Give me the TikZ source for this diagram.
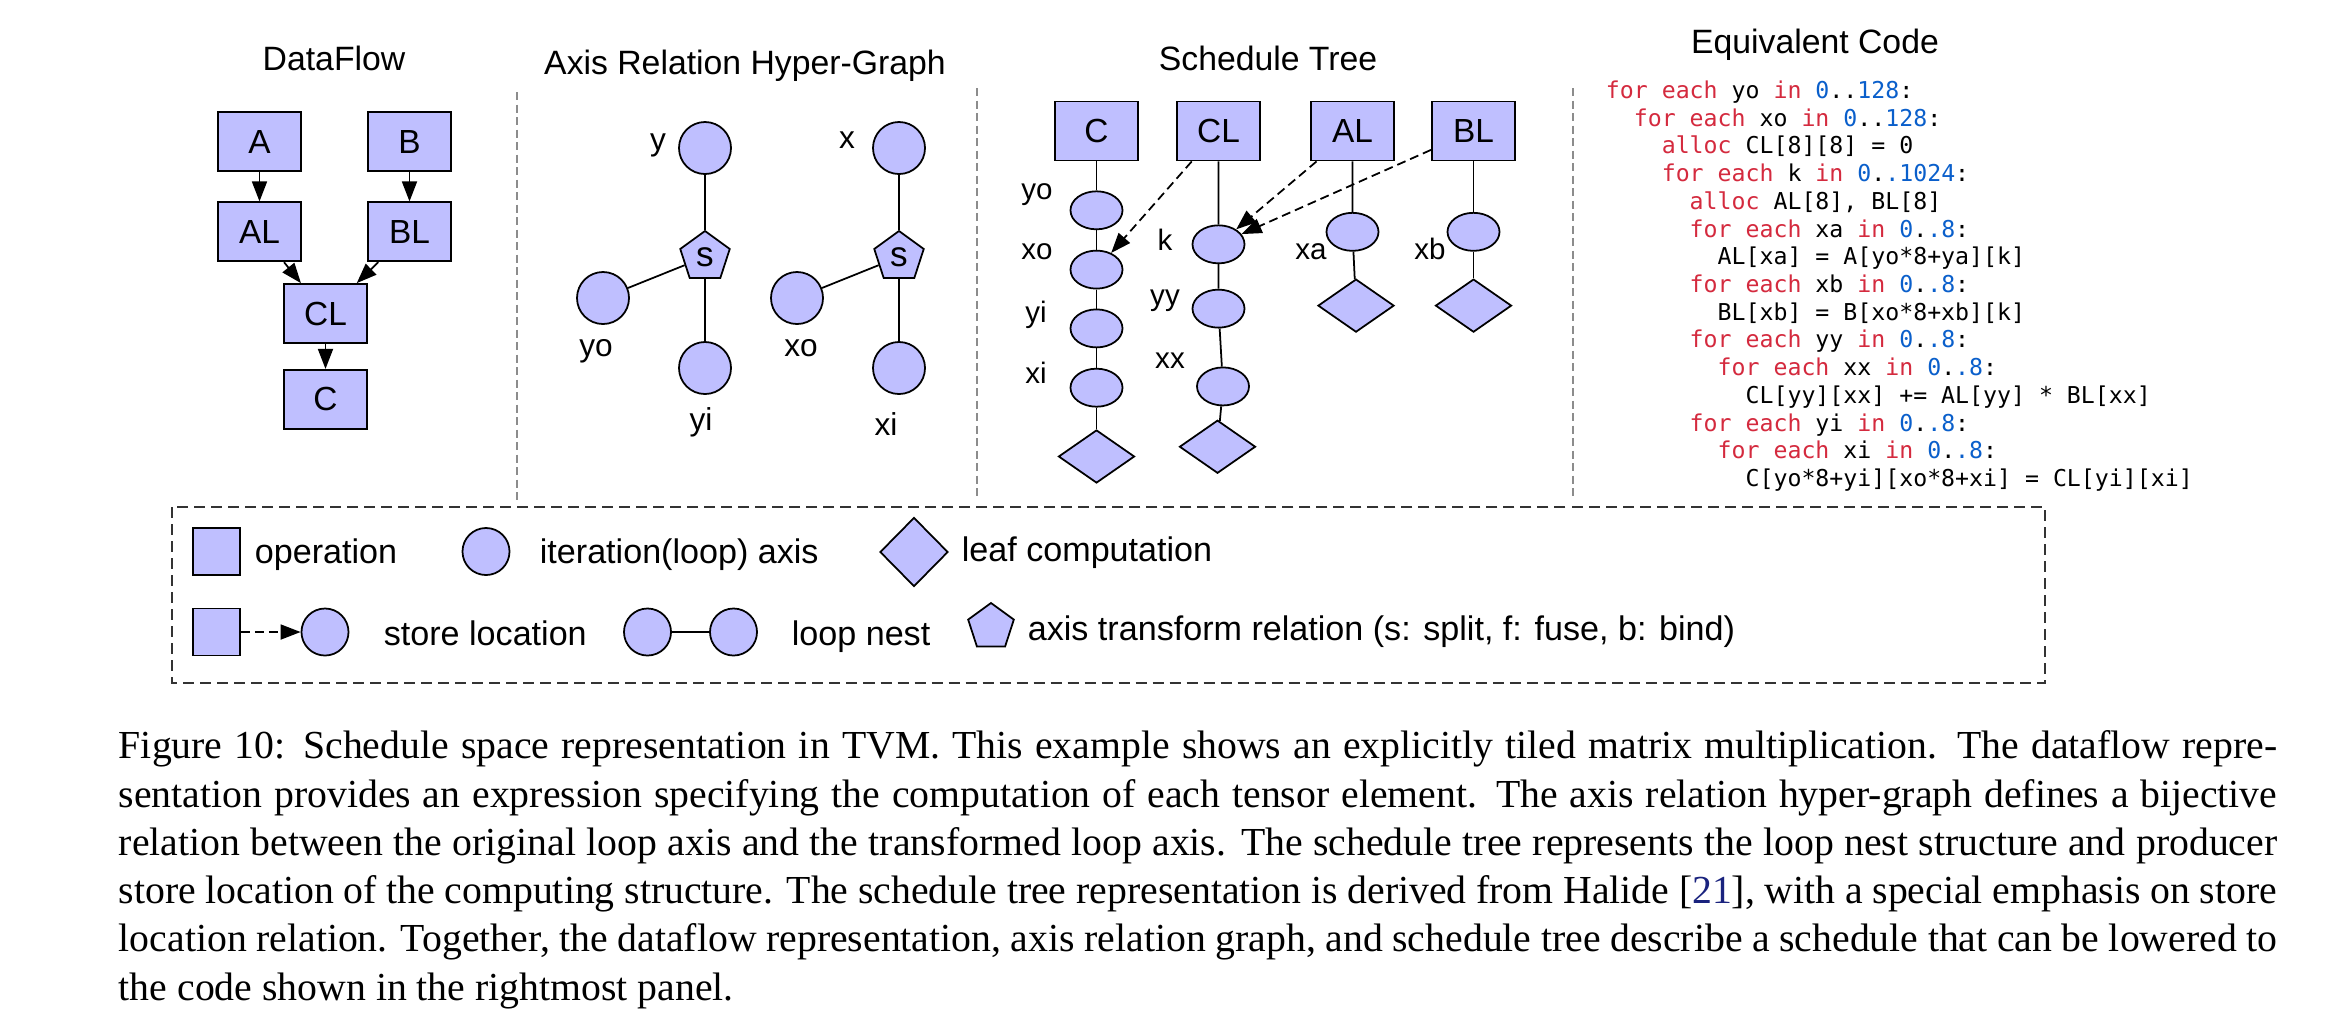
\documentclass[tikz,border=0pt]{standalone}
\usepackage{fontspec}
\setmainfont{Liberation Serif}
\setsansfont{Liberation Sans}
\newfontfamily\codefont{DejaVu Sans Mono}
\usepackage{tikz}
\usetikzlibrary{arrows.meta,positioning,shapes.geometric}
\definecolor{lav}{HTML}{BFBFFF}
\definecolor{kred}{HTML}{D42A3E}
\definecolor{nblue}{HTML}{0A5FCB}
\definecolor{cite}{HTML}{1A237E}
\def\kw#1{\textcolor{kred}{#1}}
\def\nm#1{\textcolor{nblue}{#1}}
\def\ind#1{\hspace*{\dimexpr #1em*602/1000\relax}}
\def\capline#1{\makebox[21.57cm][s]{#1}}

\begin{document}
\begin{tikzpicture}[x=0.01cm,y=-0.01cm,line width=0.5pt,
  title/.style={font=\sffamily\fontsize{9.6}{11}\selectfont,anchor=base,inner sep=0},
  opbox/.style={draw,fill=lav,minimum width=0.83cm,minimum height=0.59cm,inner sep=0,
    font=\sffamily\fontsize{9.5}{11}\selectfont},
  axisnode/.style={circle,draw,fill=lav,minimum size=0.52cm,inner sep=0},
  loopnode/.style={ellipse,draw,fill=lav,minimum width=0.52cm,minimum height=0.38cm,inner sep=0},
  leafnode/.style={diamond,draw,fill=lav,minimum width=0.76cm,minimum height=0.53cm,inner sep=0},
  relnode/.style={regular polygon,regular polygon sides=5,draw,fill=lav,minimum size=0.52cm,
    inner sep=0,font=\sffamily\fontsize{10}{11}\selectfont},
  albl/.style={font=\sffamily\fontsize{9}{11}\selectfont,anchor=base,inner sep=0},
  slbl/.style={font=\sffamily\fontsize{8.4}{10}\selectfont,anchor=base,inner sep=0},
  legtext/.style={font=\sffamily\fontsize{9.7}{11}\selectfont,anchor=base west,inner sep=0},
  arr/.style={-{Triangle[length=0.2cm,width=0.15cm]}},
  store/.style={arr,dash pattern=on 0.09cm off 0.05cm},
  divider/.style={draw=black!45,line width=0.4pt,dash pattern=on 0.08cm off 0.045cm},
  legbox/.style={draw=black!80,dash pattern=on 0.11cm off 0.06cm}]
  \useasboundingbox (0,0) rectangle (2342,1026);

  \node[title] (tdf) at (334,70) {DataFlow};
  \node[title] (tax) at (745,74) {Axis Relation Hyper-Graph};
  \node[title] (tst) at (1268,70) {Schedule Tree};
  \node[title] (tcode) at (1815,53) {Equivalent Code};

  \node[opbox] (dA) at (259.5,141.5) {A};
  \node[opbox,below=0.295cm of dA] (dAL) {AL};
  \node[opbox] (dB) at (409.5,141.5) {B};
  \node[opbox,below=0.295cm of dB] (dBL) {BL};
  \node[opbox] (dCL) at (325.5,313.5) {CL};
  \node[opbox,below=0.25cm of dCL] (dC) {C};
  \draw[arr] (dA) -- (dAL); \draw[arr] (dB) -- (dBL);
  \draw[arr] (dAL) -- (dCL); \draw[arr] (dBL) -- (dCL);
  \draw[arr] (dCL) -- (dC);

  \node[axisnode] (ay) at (705,148) {};
  \node[relnode] (as1) at (705,257) {s};
  \node[axisnode] (ayo) at (603,298) {};
  \node[axisnode] (ayi) at (705,368) {};
  \node[axisnode] (ax) at (899,148) {};
  \node[relnode] (as2) at (899,257) {s};
  \node[axisnode] (axo) at (797,298) {};
  \node[axisnode] (axi) at (899,368) {};
  \draw (ay) -- (as1) -- (ayi); \draw (ayo) -- (as1);
  \draw (ax) -- (as2) -- (axi); \draw (axo) -- (as2);
  \node[albl] at (658,150) {y};
  \node[albl] at (847,148) {x};
  \node[albl] at (596,356) {yo};
  \node[albl] at (801,356) {xo};
  \node[albl] at (701,430) {yi};
  \node[albl] at (886,435) {xi};

  \node[opbox] (sC) at (1096.5,131) {C};
  \node[opbox] (sCL) at (1218.5,131) {CL};
  \node[opbox] (sAL) at (1352.5,131) {AL};
  \node[opbox] (sBL) at (1473.5,131) {BL};
  \node[loopnode,below=0.29cm of sC] (syo) {};
  \node[loopnode,below=0.195cm of syo] (sxo) {};
  \node[loopnode,below=0.19cm of sxo] (syi) {};
  \node[loopnode,below=0.195cm of syi] (sxi) {};
  \node[leafnode,below=0.215cm of sxi] (sCc) {};
  \node[loopnode,below=0.63cm of sCL] (sk) {};
  \node[loopnode,below=0.245cm of sk] (syy) {};
  \node[loopnode,below=0.38cm of syy,xshift=0.045cm] (sxx) {};
  \node[leafnode,below=0.13cm of sxx,xshift=-0.055cm] (sCLc) {};
  \node[loopnode,below=0.505cm of sAL] (sxa) {};
  \node[leafnode,below=0.265cm of sxa,xshift=0.035cm] (sALc) {};
  \node[loopnode,below=0.505cm of sBL] (sxb) {};
  \node[leafnode,below=0.265cm of sxb] (sBLc) {};
  \draw (sC) -- (syo) -- (sxo) -- (syi) -- (sxi) -- (sCc);
  \draw (sCL) -- (sk) -- (syy) -- (sxx) -- (sCLc);
  \draw (sAL) -- (sxa) -- (sALc);
  \draw (sBL) -- (sxb) -- (sBLc);
  \draw[store] (sCL) -- (sxo);
  \draw[store] (sAL) -- (sk);
  \draw[store] (sBL) -- (sk);
  \node[slbl] at (1037,199) {yo};
  \node[slbl] at (1037,259) {xo};
  \node[slbl] at (1036,322) {yi};
  \node[slbl] at (1036,383) {xi};
  \node[slbl] at (1165,250) {k};
  \node[slbl] at (1165,305) {yy};
  \node[slbl] at (1170,368) {xx};
  \node[slbl] at (1311,259) {xa};
  \node[slbl] at (1430,259) {xb};

  \node[anchor=north west,inner sep=0,align=left,
    font=\codefont\fontsize{6.6}{7.88}\selectfont] (code) at (1605,80) {%
    \kw{for each} yo \kw{in} \nm{0}..\nm{128}:\\
    \ind{2}\kw{for each} xo \kw{in} \nm{0}..\nm{128}:\\
    \ind{4}\kw{alloc} CL[8][8] = 0\\
    \ind{4}\kw{for each} k \kw{in} \nm{0}.\nm{.1024}:\\
    \ind{6}\kw{alloc} AL[8], BL[8]\\
    \ind{6}\kw{for each} xa \kw{in} \nm{0}.\nm{.8}:\\
    \ind{8}AL[xa] = A[yo*8+ya][k]\\
    \ind{6}\kw{for each} xb \kw{in} \nm{0}.\nm{.8}:\\
    \ind{8}BL[xb] = B[xo*8+xb][k]\\
    \ind{6}\kw{for each} yy \kw{in} \nm{0}.\nm{.8}:\\
    \ind{8}\kw{for each} xx \kw{in} \nm{0}.\nm{.8}:\\
    \ind{10}CL[yy][xx] += AL[yy] * BL[xx]\\
    \ind{6}\kw{for each} yi \kw{in} \nm{0}.\nm{.8}:\\
    \ind{8}\kw{for each} xi \kw{in} \nm{0}.\nm{.8}:\\
    \ind{10}C[yo*8+yi][xo*8+xi] = CL[yi][xi]};

  \draw[divider] (517,92) -- (517,500);
  \draw[divider] (977,88) -- (977,500);
  \draw[divider] (1573,88) -- (1573,500);

  \draw[legbox] (172,507) rectangle (2045,683);
  \node[opbox,minimum width=0.47cm,minimum height=0.47cm] (lop) at (216.5,551.5) {};
  \node[legtext] at (254,563) {operation};
  \node[axisnode,minimum size=0.47cm] (lax) at (486,551.5) {};
  \node[legtext] at (539,563) {iteration(loop) axis};
  \node[leafnode,minimum width=0.68cm,minimum height=0.69cm] (lleaf) at (914,552) {};
  \node[legtext] at (961,561) {leaf computation};
  \node[opbox,minimum width=0.47cm,minimum height=0.47cm] (lop2) at (216.5,632) {};
  \node[axisnode,minimum size=0.47cm] (lst) at (325,632) {};
  \draw[store] (lop2) -- (lst);
  \node[legtext] at (383,645) {store location};
  \node[axisnode,minimum size=0.47cm] (ln1) at (647.5,632) {};
  \node[axisnode,minimum size=0.47cm] (ln2) at (733.5,632) {};
  \draw (ln1) -- (ln2);
  \node[legtext] at (791,645) {loop nest};
  \node[relnode,minimum size=0.48cm] (lrel) at (991,627) {};
  \node[legtext] at (1027,640) {axis transform relation (s: split, f: fuse, b: bind)};

  \node[anchor=north west,inner sep=0,align=left,
    font=\fontsize{11.3}{13.72}\selectfont] (cap) at (118,730) {%
    \capline{Figure 10: Schedule space representation in TVM. This example shows an explicitly tiled matrix multiplication. The dataflow repre-}\\
    \capline{sentation provides an expression specifying the computation of each tensor element. The axis relation hyper-graph defines a bijective}\\
    \capline{relation between the original loop axis and the transformed loop axis. The schedule tree represents the loop nest structure and producer}\\
    \capline{store location of the computing structure. The schedule tree representation is derived from Halide [\textcolor{cite}{21}], with a special emphasis on store}\\
    \capline{location relation. Together, the dataflow representation, axis relation graph, and schedule tree describe a schedule that can be lowered to}\\
    the code shown in the rightmost panel.};
\end{tikzpicture}
\end{document}
